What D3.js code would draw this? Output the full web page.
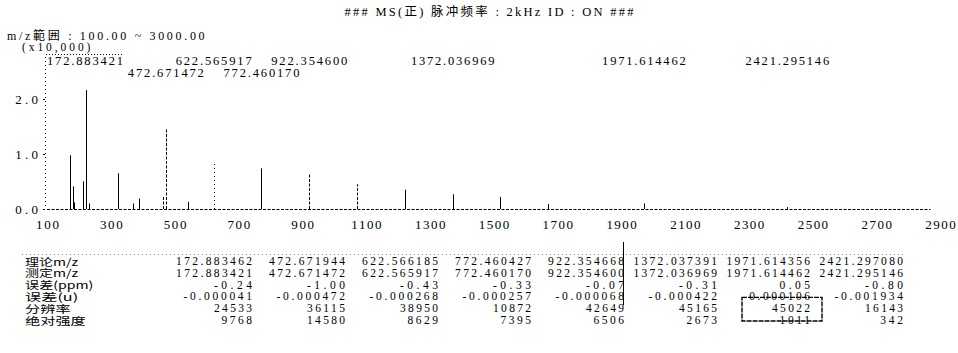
<!DOCTYPE html>
<html>
<head>
<meta charset="utf-8">
<script src="https://cdn.jsdelivr.net/npm/d3@7/dist/d3.min.js"></script>
<style>
  html, body { margin: 0; padding: 0; background: #fff; }
  svg { display: block; }
  text { font-family: "Liberation Serif", "Noto Sans CJK JP", serif; fill: #000; }
</style>
</head>
<body>
<svg id="chart" width="958" height="353"></svg>
<script>
// ---- Labelled ions ----
const theoryMz   = ["172.883462", "472.671944", "622.566185", "772.460427", "922.354668", "1372.037391", "1971.614356", "2421.297080"];
const measuredMz = ["172.883421", "472.671472", "622.565917", "772.460170", "922.354600", "1372.036969", "1971.614462", "2421.295146"];
const errorPpm   = ["-0.24", "-1.00", "-0.43", "-0.33", "-0.07", "-0.31", "0.05", "-0.80"];
const errorU     = ["-0.000041", "-0.000472", "-0.000268", "-0.000257", "-0.000068", "-0.000422", "0.000106", "-0.001934"];
const resolution = [24533, 36115, 38950, 10872, 42649, 45165, 45022, 16143];
const absIntensity = [9768, 14580, 8629, 7395, 6506, 2673, 1011, 342];

// ---- Other peaks in the spectrum (intensity in x10,000 counts) ----
const otherMz  = [180.5, 185.0, 214.0, 221.0, 232.0, 322.0, 370.0, 389.0, 464.0, 541.0, 1072.25, 1222.14, 1521.9, 1672.0];
const otherInt = [0.41, 0.12, 0.50, 2.16, 0.10, 0.65, 0.10, 0.19, 0.22, 0.13, 0.45, 0.35, 0.22, 0.09];

// ---- Axis ticks ----
const xTicks = [100, 300, 500, 700, 900, 1100, 1300, 1500, 1700, 1900, 2100, 2300, 2500, 2700, 2900];
const yTicks = [0, 1, 2];

// ---- Texts ----
const titleText = "### MS(正) 脉冲频率 : 2kHz ID : ON ###";
const rangeText = "m/z範囲 : 100.00 ~ 3000.00";
const unitText  = "(x10,000)";
const rowNames  = ["理论m/z", "测定m/z", "误差(ppm)", "误差(u)", "分辨率", "绝对强度"];

// printer-style fixed pitch: half-width cell, full-width (CJK) counts as two cells
const PITCH = 7.6;
const cells = s => Array.from(String(s)).reduce((n, c) => n + (c.charCodeAt(0) > 0x2e80 ? 2 : 1), 0);
function pitched(sel, adjust) {
  return sel.attr("textLength", d => cells(d) * PITCH)
            .attr("lengthAdjust", adjust || "spacing");
}

const svg = d3.select("#chart");
const x = d3.scaleLinear().domain([100, 2900]).range([47, 940]);
const y = d3.scaleLinear().domain([0, 1]).range([209, 154]);

function line(text, px, py, anchor, size) {
  return pitched(svg.append("text").datum(text)
    .attr("x", px).attr("y", py).attr("text-anchor", anchor || "start")
    .attr("dominant-baseline", "central").attr("font-size", size || 12.5).text(d => d));
}

// header
line(titleText, 489, 12, "middle");
line(rangeText, 7, 35.5, "start", 12);
line(unitText, 22, 47, "start", 11.5);

// y axis: dotted rule with small ticks and labels
svg.append("line").attr("x1", 45.5).attr("x2", 45.5).attr("y1", 57).attr("y2", y(0))
  .attr("stroke", "#000").attr("stroke-width", 1).attr("stroke-dasharray", "1,3");
const gy = svg.append("g").attr("transform", "translate(45,0)")
  .call(d3.axisLeft(y).tickValues(yTicks).tickSize(2).tickPadding(5).tickFormat(d3.format(".1f")));
gy.select(".domain").remove();
gy.selectAll("line").attr("stroke", "#000");
pitched(gy.selectAll("text").attr("font-size", 13).attr("fill", "#000")
  .style("font-family", "Liberation Serif").datum(d => d3.format(".1f")(d)));

// x axis labels
const gx = svg.append("g").attr("transform", `translate(0,${y(0)})`)
  .call(d3.axisBottom(x).tickValues(xTicks).tickSize(0).tickPadding(11).tickFormat(d3.format("d")));
gx.select(".domain").remove();
pitched(gx.selectAll("text").attr("font-size", 13).attr("fill", "#000")
  .style("font-family", "Liberation Serif").datum(d => String(d)));

// baseline (noise floor)
svg.append("line").attr("x1", x(100)).attr("x2", x(2870)).attr("y1", y(0) + 0.5).attr("y2", y(0) + 0.5)
  .attr("stroke", "#000").attr("stroke-width", 1).attr("stroke-dasharray", "3,1.5");

// peaks; a few of the thin sticks print broken
const brokenPeaks = new Set([464.0, 472.671472, 622.565917, 922.3546, 1072.25]);
const peaks = otherMz.map((m, i) => ({ mz: m, v: otherInt[i] }))
  .concat(measuredMz.map((m, i) => ({ mz: +m, v: absIntensity[i] / 10000 })));
svg.append("g").selectAll("line").data(peaks).join("line")
  .attr("x1", d => Math.round(x(d.mz)) + 0.5).attr("x2", d => Math.round(x(d.mz)) + 0.5)
  .attr("y1", y(0)).attr("y2", d => y(d.v))
  .attr("stroke", "#000").attr("stroke-width", 1)
  .attr("stroke-dasharray", d => brokenPeaks.has(d.mz) ? (d.mz > 600 && d.mz < 700 ? "1,3" : "3,1.5") : null);

// peak labels centred over their peaks, two rows to avoid collisions
const labelRow = [0, 1, 0, 1, 0, 0, 0, 0];
const labelX = d => Math.max(x(+d), 47 + cells(d) * PITCH / 2);
pitched(svg.append("g").selectAll("text").data(measuredMz).join("text")
  .attr("x", labelX).attr("y", (d, i) => labelRow[i] ? 73 : 61)
  .attr("text-anchor", "middle").attr("dominant-baseline", "central")
  .attr("font-size", 12.5).text(d => d));
// dotted frame top over the first label
svg.append("line").attr("x1", 46).attr("x2", 47 + cells(measuredMz[0]) * PITCH)
  .attr("y1", 54.5).attr("y2", 54.5).attr("stroke", "#000").attr("stroke-dasharray", "1,2");

// results table
const rowY = i => 261 + i * 11.8;
const colRight = j => 252 + j * 93;
const rows = [theoryMz, measuredMz, errorPpm, errorU, resolution, absIntensity];
svg.append("line").attr("x1", 22).attr("x2", 905).attr("y1", 254.5).attr("y2", 254.5)
  .attr("stroke", "#888").attr("stroke-dasharray", "1,3");
rowNames.forEach((name, i) => {
  pitched(svg.append("text").datum(name).attr("x", 25).attr("y", rowY(i))
    .attr("dominant-baseline", "central").attr("font-size", 10.5)
    .style("font-family", "'Noto Sans CJK SC', 'Liberation Serif', sans-serif").text(d => d), "spacingAndGlyphs");
  pitched(svg.append("g").selectAll("text").data(rows[i].map(String)).join("text")
    .attr("x", (d, j) => colRight(j)).attr("y", rowY(i)).attr("text-anchor", "end")
    .attr("dominant-baseline", "central").attr("font-size", 11.5).text(d => d));
});

// highlight box around one entry and a marker rule
svg.append("rect").attr("x", colRight(6) - 68).attr("y", rowY(3) + 1)
  .attr("width", 80).attr("height", rowY(5) - rowY(3))
  .attr("fill", "none").attr("stroke", "#000").attr("stroke-width", 1.4).attr("stroke-dasharray", "5,1");
svg.append("line").attr("x1", colRight(4) - 0.5).attr("x2", colRight(4) - 0.5).attr("y1", 242).attr("y2", rowY(4) - 3)
  .attr("stroke", "#000").attr("stroke-width", 1);
</script>
</body>
</html>
